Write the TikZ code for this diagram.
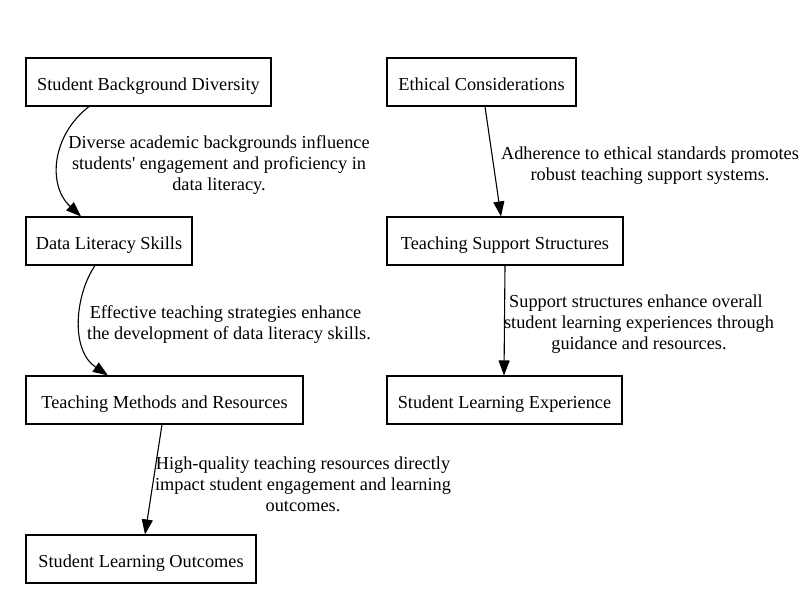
\documentclass[tikz,border=0pt]{standalone}
\usepackage{fontspec}
\setmainfont{Liberation Serif}
\newfontfamily\rawfont{Liberation Serif}
\usetikzlibrary{arrows.meta}
\begin{document}
\begin{tikzpicture}[x=1pt,y=1pt,
  box/.style={draw,line width=1.1pt,rectangle,minimum height=48pt,inner sep=0pt,
    text height=17pt,text depth=0pt,
    font=\rawfont\fontsize{18.3}{21}\selectfont},
  lbl/.style={align=center,inner sep=0pt,font=\rawfont\fontsize{18.3}{21}\selectfont},
  conn/.style={line width=1.1pt,-{Triangle[length=15pt,width=11pt]}}]
\useasboundingbox[fill=white] (0,0) rectangle (808,-610);
\node[box,minimum width=245pt] (sbd) at (148.5,-82) {Student Background Diversity};
\node[box,minimum width=166pt] (dls) at (109,-241) {Data Literacy Skills};
\node[box,minimum width=277pt] (tmr) at (164.5,-400) {Teaching Methods and Resources};
\node[box,minimum width=230pt] (slo) at (141,-559) {Student Learning Outcomes};
\node[box,minimum width=189pt] (ec) at (481.5,-82) {Ethical Considerations};
\node[box,minimum width=236pt] (tss) at (505,-241) {Teaching Support Structures};
\node[box,minimum width=235pt] (sle) at (504.5,-400) {Student Learning Experience};

\node[lbl] (l1) at (219,-165.5) {Diverse academic backgrounds influence\\students' engagement and proficiency in\\data literacy.};
\node[lbl] (l2) at (229,-325) {Effective teaching strategies enhance\hspace*{7pt}\\the development of data literacy skills.};
\node[lbl] (l3) at (303,-484) {High-quality teaching resources directly\\impact student engagement and learning\\outcomes.};
\node[lbl] (l4) at (650,-166) {Adherence to ethical standards promotes\\robust teaching support systems.};
\node[lbl] (l5) at (639,-324.5) {Support structures enhance overall\hspace*{6pt}\\student learning experiences through\\guidance and resources.};

\draw[conn] (sbd.south -| 89,0) .. controls (52,-135) and (47,-185) .. (dls.north -| 81,0);
\draw[conn] (dls.south -| 95,0) .. controls (75,-295) and (70,-350) .. (tmr.north -| 108,0);
\draw[conn] (tmr.south -| 162,0) -- (slo.north -| 145,0);
\draw[conn] (ec.south -| 485,0) -- (tss.north -| 501,0);
\draw[conn] (tss.south -| 505,0) -- (sle.north -| 504,0);
\end{tikzpicture}
\end{document}
